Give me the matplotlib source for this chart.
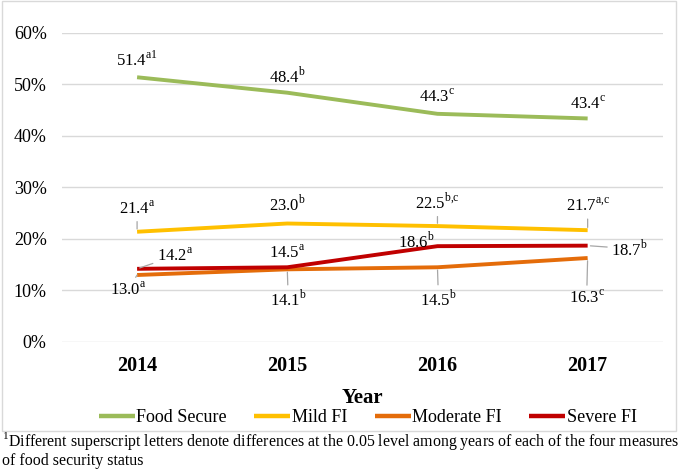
import matplotlib
matplotlib.use("Agg")
import matplotlib.pyplot as plt
from matplotlib.patches import Rectangle

plt.rcParams["font.family"] = "Liberation Serif"
plt.rcParams["mathtext.fontset"] = "custom"
plt.rcParams["mathtext.rm"] = "Liberation Serif"

years = ["2014", "2015", "2016", "2017"]
food_secure = [51.4, 48.4, 44.3, 43.4]
mild_fi = [21.4, 23.0, 22.5, 21.7]
moderate_fi = [13.0, 14.1, 14.5, 16.3]
severe_fi = [14.2, 14.5, 18.6, 18.7]

food_secure_sup = ["a1", "b", "c", "c"]
mild_fi_sup = ["a", "b", "b{,}c", "a{,}c"]
moderate_fi_sup = ["a", "b", "b", "c"]
severe_fi_sup = ["a", "a", "b", "b"]

yticks = [0, 10, 20, 30, 40, 50, 60]

series = [
    ("Food Secure", food_secure, food_secure_sup, "#9BBB59",
     [(0, 17), (0, 17), (0, 17), (0, 15)], [False, False, False, False]),
    ("Mild FI", mild_fi, mild_fi_sup, "#FFC000",
     [(0, 23), (0, 19), (0, 24), (0, 24)], [True, False, True, True]),
    ("Moderate FI", moderate_fi, moderate_fi_sup, "#E46C0A",
     [(-9, -15), (1, -30), (1, -32), (-1, -40)], [True, True, True, True]),
    ("Severe FI", severe_fi, severe_fi_sup, "#C00000",
     [(38, 13), (0, 14), (-21, 5), (42, -3)], [True, False, False, True]),
]

fig = plt.figure(figsize=(6.85, 4.71), dpi=100)
ax = fig.add_axes([0.0905, 0.274, 0.877, 0.656])

x = list(range(len(years)))
for name, vals, sups, col, offs, leaders in series:
    ax.plot(x, vals, color=col, lw=2.8, label=name, solid_capstyle="butt", zorder=3)
    for i, v in enumerate(vals):
        label = "%.1f$^{\\mathrm{%s}}$" % (v, sups[i])
        props = None
        if leaders[i]:
            props = dict(arrowstyle="-", color="#A6A6A6", lw=0.9, shrinkA=1, shrinkB=2)
        ax.annotate(label, xy=(i, v), xytext=offs[i], textcoords="offset pixels",
                    ha="center", va="center", fontsize=12, arrowprops=props, zorder=4)

ax.set_xlim(-0.5, 3.5)
ax.set_ylim(0, 60)
ax.set_yticks(yticks)
ax.set_yticklabels(["%d%%" % t for t in yticks], fontsize=13)
ax.set_xticks(x)
ax.set_xticklabels(years, fontsize=14.5, fontweight="bold")
ax.tick_params(axis="both", length=0)
ax.tick_params(axis="y", pad=11)
ax.tick_params(axis="x", pad=10)
ax.grid(axis="y", color="#D9D9D9", lw=1)
ax.set_axisbelow(True)
for s in ax.spines.values():
    s.set_visible(False)

ax.set_xlabel("Year", fontsize=15, fontweight="bold", labelpad=9)

fig.legend(loc="center", bbox_to_anchor=(0.537, 0.113), ncol=4, frameon=False,
           fontsize=13, handlelength=2.0, handletextpad=0.1, columnspacing=1.5,
           borderaxespad=0)
for line in fig.legends[0].get_lines():
    line.set_linewidth(3.2)

fig.patches.append(Rectangle((0.003, 0.085), 0.984, 0.912, transform=fig.transFigure,
                             fill=False, edgecolor="#D9D9D9", lw=1))

fig.text(0.003, 0.063, "$^{\\mathrm{1}}$Different superscript letters denote differences at the 0.05 level among years of each of the four measures",
         fontsize=11.45, ha="left", va="center")
fig.text(0.003, 0.021, "of food security status", fontsize=11.45, ha="left", va="center")

fig.savefig("out.png", dpi=100)
